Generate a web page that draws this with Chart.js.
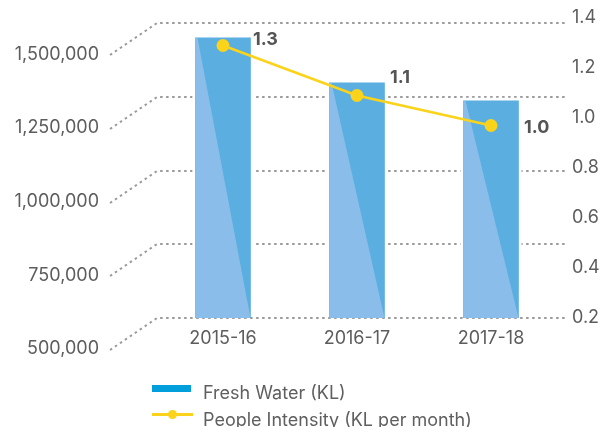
<!DOCTYPE html>
<html>
<head>
<meta charset="utf-8">
<script src="https://cdn.jsdelivr.net/npm/chart.js@4"></script>
<style>
  html, body { margin: 0; padding: 0; background: #fff; }
  #wrap { position: relative; width: 604px; height: 427px; overflow: hidden; }
  #legend { position: absolute; left: 152px; top: 380px; font: 18px Inter, sans-serif; color: #5f5f5f; }
  #legend .item { height: 26.5px; line-height: 26.5px; display: flex; align-items: center; white-space: nowrap; }
  #legend .sw { width: 51px; height: 26.5px; position: relative; flex: none; }
</style>
</head>
<body>
<div id="wrap">
  <canvas id="c" width="604" height="427"></canvas>
  <div id="legend"></div>
</div>
<script>
// ---- data ----
const categories = ['2015-16', '2016-17', '2017-18'];
const freshWater = [1451000, 1298000, 1237000];
const peopleIntensity = [1.29, 1.09, 0.97];
const leftTicks = [500000, 750000, 1000000, 1250000, 1500000];
const seriesNames = ['Fresh Water (KL)', 'People Intensity (KL per month)'];

// ---- styles ----
const barDark = '#5aaee0';
const barLight = '#8abdea';
const legendBlue = '#009fdb';
const yellow = '#fbd31a';
const textGray = '#5d5d5d';
const labelOffsets = [[30, -6], [33, -18], [33, 2]];
const FONT = 'Inter, sans-serif';

const gridPlugin = {
  id: 'pseudoGrid',
  beforeDatasetsDraw(chart) {
    const { ctx, chartArea } = chart;
    const yL = chart.scales.yL;
    ctx.save();
    ctx.strokeStyle = '#9a9a9a';
    ctx.lineWidth = 2;
    ctx.setLineDash([2.5, 3.5]);
    leftTicks.forEach(v => {
      const y = Math.round(yL.getPixelForValue(v));
      ctx.beginPath();
      ctx.moveTo(chartArea.left - 46, y + 32);
      ctx.lineTo(chartArea.left + 1, y);
      ctx.lineTo(chartArea.right + 7, y);
      ctx.stroke();
    });
    ctx.restore();
  }
};

const barShadePlugin = {
  id: 'barShade',
  beforeDatasetDraw(chart, args) {
    if (args.index !== 0) return;
    const { ctx, chartArea } = chart;
    const meta = chart.getDatasetMeta(0);
    ctx.save();
    ctx.fillStyle = '#ffffff';
    meta.data.forEach(el => {
      const p = el.getProps(['x', 'y', 'base', 'width'], true);
      const b = Math.min(p.base, chartArea.bottom);
      ctx.fillRect(p.x - p.width / 2 - 3, p.y - 3, p.width + 6, b - p.y - 1);
    });
    ctx.restore();
  },
  afterDatasetDraw(chart, args) {
    if (args.index !== 0) return;
    const { ctx, chartArea } = chart;
    const meta = chart.getDatasetMeta(0);
    ctx.save();
    ctx.fillStyle = barLight;
    meta.data.forEach(el => {
      const p = el.getProps(['x', 'y', 'base', 'width'], true);
      const l = p.x - p.width / 2, r = p.x + p.width / 2;
      const b = Math.min(p.base, chartArea.bottom);
      ctx.beginPath();
      ctx.moveTo(l, p.y);
      ctx.lineTo(l + 2, p.y);
      ctx.lineTo(r, b);
      ctx.lineTo(l, b);
      ctx.closePath();
      ctx.fill();
    });
    ctx.restore();
  }
};

const valueLabelPlugin = {
  id: 'valueLabels',
  afterDatasetsDraw(chart) {
    const { ctx } = chart;
    const meta = chart.getDatasetMeta(1);
    ctx.save();
    ctx.font = 'bold 18px ' + FONT;
    ctx.fillStyle = '#555555';
    ctx.textAlign = 'left';
    ctx.textBaseline = 'middle';
    meta.data.forEach((pt, i) => {
      const o = labelOffsets[i] || [30, 0];
      ctx.fillText(peopleIntensity[i].toFixed(1), pt.x + o[0], pt.y + o[1]);
    });
    ctx.restore();
  }
};

function noPad(s) { s.paddingTop = 0; s.paddingBottom = 0; }

const chart = new Chart(document.getElementById('c'), {
  data: {
    labels: categories,
    datasets: [
      {
        type: 'bar',
        label: seriesNames[0],
        data: freshWater,
        yAxisID: 'yL',
        backgroundColor: barDark,
        barThickness: 55,
        order: 1
      },
      {
        type: 'line',
        label: seriesNames[1],
        data: peopleIntensity,
        yAxisID: 'yR',
        borderColor: yellow,
        backgroundColor: yellow,
        borderWidth: 2.5,
        pointRadius: 6.5,
        pointBorderWidth: 0,
        pointBackgroundColor: yellow,
        tension: 0,
        order: 0
      }
    ]
  },
  options: {
    responsive: false,
    animation: false,
    layout: { padding: { top: 18, bottom: 69, left: 0, right: 0 } },
    plugins: { legend: { display: false }, tooltip: { enabled: false } },
    scales: {
      x: {
        grid: { display: false, drawTicks: false },
        border: { display: false },
        ticks: { color: textGray, font: { family: FONT, size: 18 }, padding: 10, maxRotation: 0 },
        afterFit(s) { s.height = 40; s.paddingLeft = 0; s.paddingRight = 0; }
      },
      yL: {
        position: 'left',
        min: 500000,
        max: 1518000,
        grid: { display: false, drawTicks: false },
        border: { display: false },
        afterBuildTicks(s) { s.ticks = leftTicks.map(v => ({ value: v })); },
        ticks: {
          color: textGray,
          font: { family: FONT, size: 18 },
          padding: 57,
          labelOffset: 31,
          callback: v => Number(v).toLocaleString('en-US')
        },
        afterFit(s) { s.width = 156; noPad(s); }
      },
      yR: {
        position: 'right',
        min: 0.2,
        max: 1.4,
        grid: { display: false, drawTicks: false },
        border: { display: false },
        ticks: {
          stepSize: 0.2,
          color: textGray,
          font: { family: FONT, size: 18 },
          padding: 14,
          callback: v => Number(v).toFixed(1)
        },
        afterFit(s) { s.width = 46; noPad(s); }
      }
    }
  },
  plugins: [gridPlugin, barShadePlugin, valueLabelPlugin]
});

// HTML legend built from the chart's datasets
const legend = document.getElementById('legend');
chart.data.datasets.forEach(ds => {
  const item = document.createElement('div');
  item.className = 'item';
  const sw = document.createElement('span');
  sw.className = 'sw';
  if (ds.type === 'bar') {
    sw.innerHTML = '<span style="position:absolute;left:0;top:5px;width:39px;height:7px;background:' + legendBlue + '"></span>';
  } else {
    sw.innerHTML = '<span style="position:absolute;left:0;top:6px;width:41px;height:3px;background:' + yellow + '"></span>' +
      '<span style="position:absolute;left:16px;top:3px;width:9px;height:9px;border-radius:50%;background:' + yellow + '"></span>';
  }
  item.appendChild(sw);
  item.appendChild(document.createTextNode(ds.label));
  legend.appendChild(item);
});
</script>
</body>
</html>
